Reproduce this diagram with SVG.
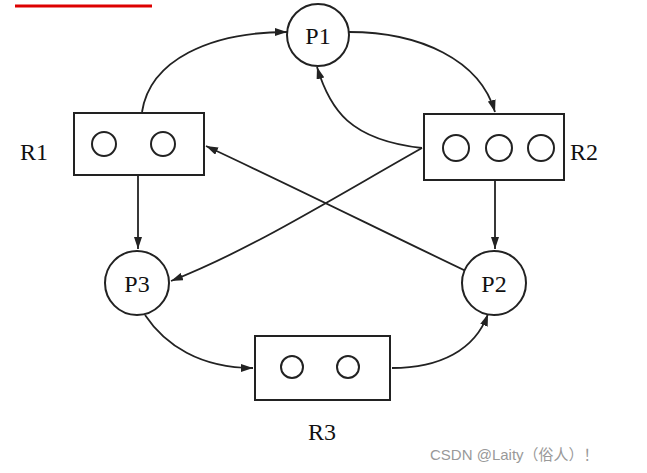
<svg xmlns="http://www.w3.org/2000/svg" width="647" height="473" viewBox="0 0 647 473">
<style>
.s{fill:#fff;stroke:#222;stroke-width:2}
.c{fill:none;stroke:#222;stroke-width:2}
.l{fill:none;stroke:#222;stroke-width:1.8;marker-end:url(#a)}
.t{font-family:"Liberation Serif",serif;font-size:24px;fill:#111}
</style>
<defs><marker id="a" viewBox="0 0 12 8" refX="12" refY="4" markerWidth="12" markerHeight="8" markerUnits="userSpaceOnUse" orient="auto"><path d="M0,0 L12,4 L0,8 Z" fill="#222"/></marker></defs>
<rect width="647" height="473" fill="#fff"/>
<line x1="15" y1="6" x2="152" y2="6" stroke="#d00" stroke-width="3"/>
<g id="connectors">
<path class="l" d="M142,112 C150,60 210,32 287,32"/>
<path class="l" d="M349,32 C420,32 480,60 495,112"/>
<path class="l" d="M422,148 C350,140 330,110 317,67"/>
<path class="l" d="M138,176 L138,249"/>
<path class="l" d="M495,181 L495,249"/>
<path class="l" d="M422,148 C330,200 250,250 171,281"/>
<path class="l" d="M468,272 C380,230 300,190 206,146"/>
<path class="l" d="M145,315 C165,345 200,368 253,368"/>
<path class="l" d="M392,368 C440,368 475,350 488,314"/>
</g>
<g id="P1"><circle class="s" cx="318" cy="35" r="31"/><text class="t" x="318" y="44" text-anchor="middle">P1</text></g>
<g id="R1"><rect class="s" x="74" y="113" width="130" height="62"/><circle class="c" cx="104" cy="144" r="12"/><circle class="c" cx="163" cy="144" r="12"/><text class="t" x="20" y="160">R1</text></g>
<g id="R2"><rect class="s" x="424" y="114" width="140" height="66"/><circle class="c" cx="456" cy="148" r="13"/><circle class="c" cx="499" cy="148" r="13"/><circle class="c" cx="541" cy="148" r="13"/><text class="t" x="570" y="160">R2</text></g>
<g id="P3"><circle class="s" cx="137" cy="283" r="32"/><text class="t" x="137" y="292" text-anchor="middle">P3</text></g>
<g id="P2"><circle class="s" cx="494" cy="283" r="32"/><text class="t" x="494" y="292" text-anchor="middle">P2</text></g>
<g id="R3"><rect class="s" x="255" y="336" width="135" height="64"/><circle class="c" cx="292" cy="367" r="11"/><circle class="c" cx="348" cy="367" r="11"/><text class="t" x="322" y="440" text-anchor="middle">R3</text></g>
<text x="430" y="460" font-family="'Liberation Sans','Noto Sans CJK SC',sans-serif" font-size="15" fill="#999">CSDN @Laity（俗人）！</text>
</svg>
